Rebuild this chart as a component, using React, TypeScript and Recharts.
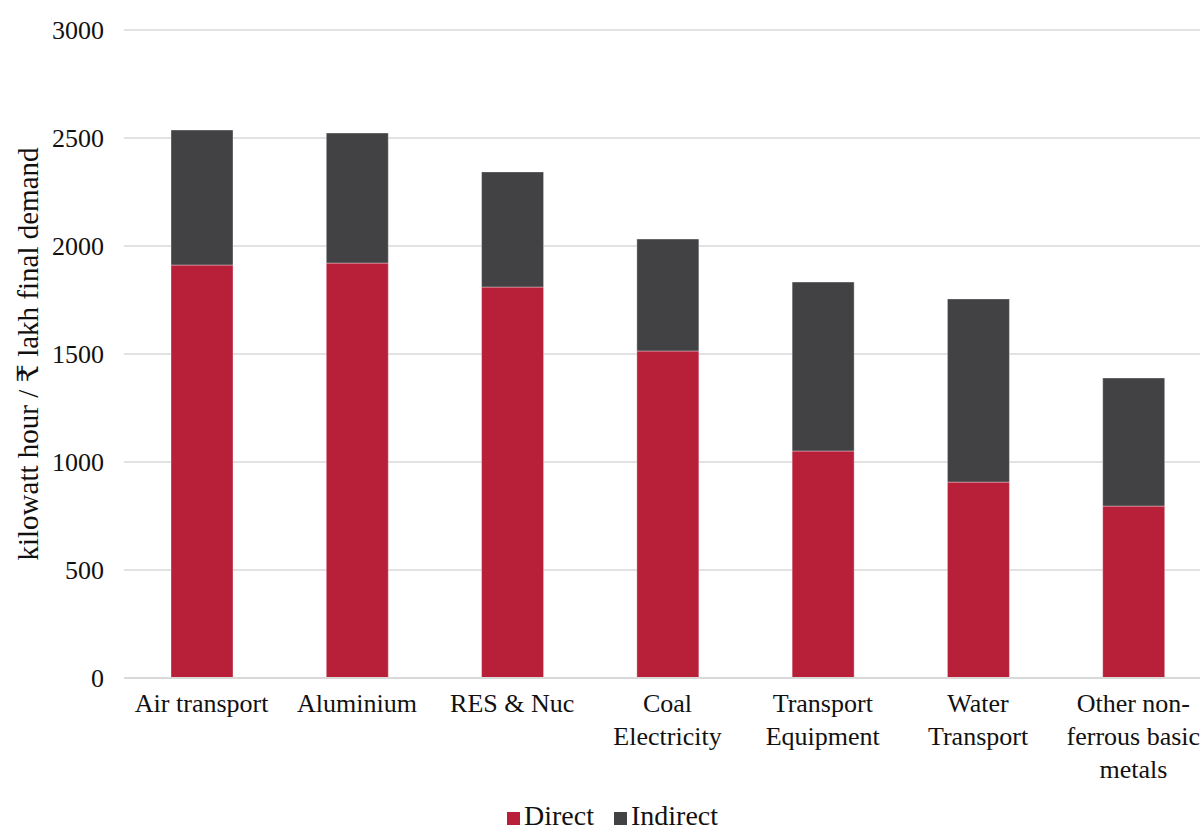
import React from 'react';
import { BarChart, Bar, XAxis, YAxis, CartesianGrid, Legend } from 'recharts';

// sector labels, "\n" marks a line break in the axis label
const categories = [
  'Air transport',
  'Aluminium',
  'RES & Nuc',
  'Coal\nElectricity',
  'Transport\nEquipment',
  'Water\nTransport',
  'Other non-\nferrous basic\nmetals',
];
const direct = [1912, 1921, 1810, 1514, 1051, 907, 796];
const indirect = [625, 602, 533, 518, 782, 848, 593];
const yTicks = [0, 500, 1000, 1500, 2000, 2500, 3000];

const FONT = '"Liberation Serif", "DejaVu Serif", serif';
const TEXT = '#111111';

const data = categories.map((name, i) => ({ name, direct: direct[i], indirect: indirect[i] }));

const CategoryTick = ({ x, y, payload }: any) => {
  const lines = String(payload.value).split('\n');
  return (
    <text x={x} y={y} textAnchor="middle" fontSize={26} fill={TEXT} fontFamily={FONT}>
      {lines.map((line, i) => (
        <tspan key={i} x={x} dy={i === 0 ? '0.71em' : 33}>{line}</tspan>
      ))}
    </text>
  );
};

const legendText = (value: string, _entry: any, index: number) => (
  <span style={{ color: TEXT, marginRight: index === 0 ? 10 : 0 }}>{value}</span>
);

export default function App() {
  return (
    <div style={{ position: 'absolute', left: 0, top: 0, width: 1200, height: 830, overflow: 'hidden', background: '#fff' }}>
      <BarChart
        width={1212}
        height={837}
        data={data}
        barSize={62}
        margin={{ top: 30, right: 1, left: 0, bottom: 0 }}
        style={{ fontFamily: FONT }}
      >
        <CartesianGrid vertical={false} stroke="#d9d9d9" strokeWidth={1.5} />
        <XAxis
          dataKey="name"
          interval={0}
          height={123}
          tickLine={false}
          tickMargin={10}
          axisLine={{ stroke: '#d9d9d9', strokeWidth: 2 }}
          tick={<CategoryTick />}
        />
        <YAxis
          width={124}
          domain={[0, 3000]}
          ticks={yTicks}
          axisLine={false}
          tickLine={false}
          tickMargin={14}
          tick={{ fontSize: 26, fill: TEXT, fontFamily: FONT }}
          label={{
            value: 'kilowatt hour / ₹ lakh final demand',
            angle: -90,
            position: 'insideLeft',
            offset: 28,
            style: { textAnchor: 'middle', fontSize: 29, fill: TEXT, fontFamily: FONT },
          }}
        />
        <Legend
          verticalAlign="bottom"
          height={36}
          iconType="square"
          iconSize={13}
          formatter={legendText}
          wrapperStyle={{ fontSize: 28, fontFamily: FONT, lineHeight: '30px', left: 12, bottom: 0 }}
        />
        <Bar dataKey="direct" name="Direct" stackId="a" fill="#b72038" stroke="rgba(255,255,255,0.35)" isAnimationActive={false} />
        <Bar dataKey="indirect" name="Indirect" stackId="a" fill="#424244" stroke="rgba(255,255,255,0.35)" isAnimationActive={false} />
      </BarChart>
    </div>
  );
}
